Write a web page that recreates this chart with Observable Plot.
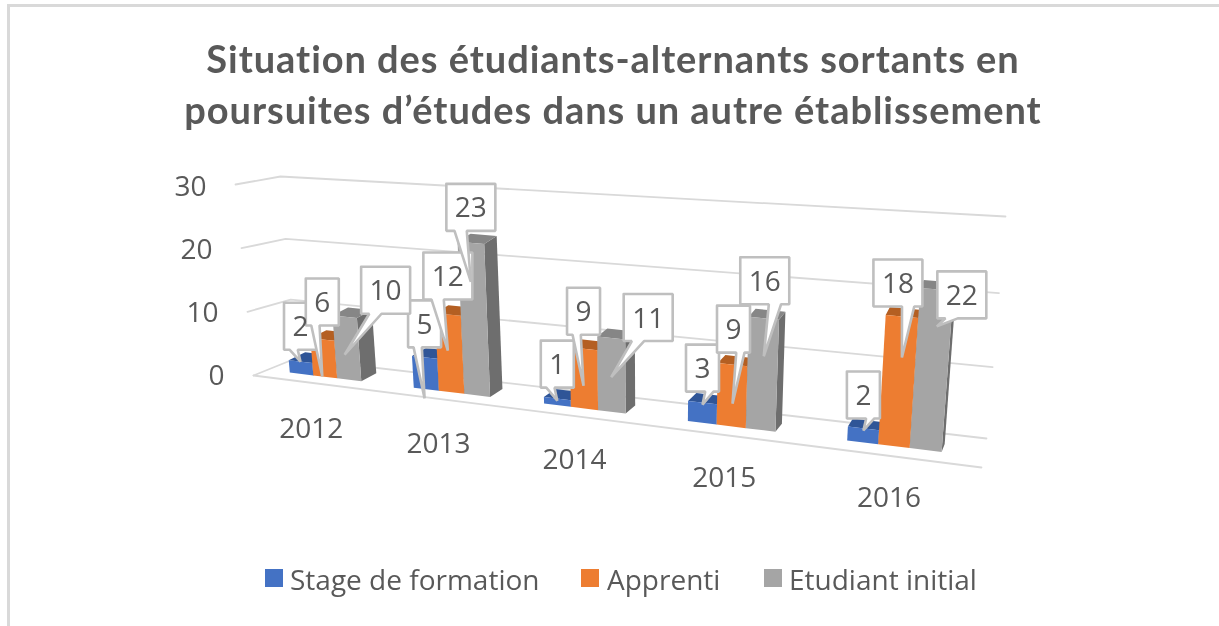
<!DOCTYPE html>
<html lang="fr">
<head>
<meta charset="utf-8">
<script src="https://cdn.jsdelivr.net/npm/d3@7"></script>
<script src="https://cdn.jsdelivr.net/npm/@observablehq/plot@0.6"></script>
<style>
  html, body { margin: 0; padding: 0; background: #fff; width: 1219px; height: 626px; overflow: hidden; }
  #frame { position: absolute; left: 7px; top: 4px; right: 0; bottom: 0; border-left: 3px solid #d9d9d9; border-top: 3px solid #d9d9d9; pointer-events: none; }
  #title { position: absolute; left: 0; width: 1226px; top: 33px; text-align: center; color: #595959;
           font: 700 38px/51px Lato, sans-serif; letter-spacing: 0.95px; filter: blur(0.6px); }
  #chart { position: absolute; left: 0; top: 140px; filter: blur(0.5px); }
  #legend { position: absolute; left: 0; top: 560px; width: 1219px; height: 40px; color: #595959; font: 28px "Open Sans", sans-serif; filter: blur(0.5px); }
  #legend span { position: absolute; white-space: nowrap; top: 0px; }
  #legend i { position: absolute; display: block; width: 18px; height: 18px; top: 9px; }
  svg text { font-family: "Open Sans", sans-serif; }
</style>
</head>
<body>
<div id="frame"></div>
<div id="title">Situation des étudiants-alternants sortants en<br>poursuites d’études dans un autre établissement</div>
<div id="chart"></div>
<div id="legend"></div>
<script>
// ---- data
const categories = ["2012", "2013", "2014", "2015", "2016"];
const seriesNames = ["Stage de formation", "Apprenti", "Etudiant initial"];
const stage = [2, 5, 1, 3, 2];
const apprenti = [6, 12, 9, 9, 18];
const initial = [10, 23, 11, 16, 22];
const yTicks = [0, 10, 20, 30];

// ---- styles
const frontColors = ["#4472C4", "#ED7D31", "#A5A5A5"];
const capColors = ["#2F5597", "#B45F22", "#868686"];
const sideColors = ["#2F5597", "#A9561D", "#6E6E6E"];
const gridColor = "#D9D9D9";
const boxColor = "#BFBFBF";
const textColor = "#595959";

// ---- layout of the drawing (page pixels)
const T = 140, H = 410, W = 1219;
const zeroY = 376, pxPerUnit = 6.3;
const yValue = Y => (zeroY - Y) / pxPerUnit;

// ---- perspective
function quad(p00, p10, p01, p11) {
  const sx = p00[0] - p10[0] + p11[0] - p01[0], sy = p00[1] - p10[1] + p11[1] - p01[1];
  const dx1 = p10[0] - p11[0], dx2 = p01[0] - p11[0], dy1 = p10[1] - p11[1], dy2 = p01[1] - p11[1];
  const den = dx1 * dy2 - dx2 * dy1;
  const g = (sx * dy2 - dx2 * sy) / den, h = (dx1 * sy - sx * dy1) / den;
  const a = p10[0] - p00[0] + g * p10[0], b = p01[0] - p00[0] + h * p01[0], c = p00[0];
  const d = p10[1] - p00[1] + g * p10[1], e = p01[1] - p00[1] + h * p01[1], f = p00[1];
  return (s, t) => { const w = g * s + h * t + 1; return [(a * s + b * t + c) / w, (d * s + e * t + f) / w]; };
}
const barPlane = quad([260, 368.5], [983, 456.6], [242, 177.5], [1002, 231.6]);
const backWall = quad([295, 358], [986, 438], [280, 176], [1005, 216]);
const frontEdge = v => [253 - 18 * v / 30, 375 - 191 * v / 30];
const floorRight = [981, 467];

const bar = (u, v) => barPlane(u / categories.length, v / 30);
const back = ([X, Y]) => [X + Math.max(3, 15 - 0.0205 * (X - 359)), Y - 8];

// ---- rows in scale units
const pt = (id, [X, Y], extra) => ({id, x: X, y: yValue(Y), ...extra});
const poly = (id, pts, extra) => [...pts, pts[0]].map(p => pt(id, p, extra));

const gridRows = yTicks.flatMap(v => [
  pt("g" + v, frontEdge(v)),
  pt("g" + v, backWall(0, v / 30)),
  pt("g" + v, backWall(1, v / 30))
]);
const floorRows = [pt("floor", frontEdge(0)), pt("floor", floorRight)];

const values = [stage, apprenti, initial];
const barWidth = 0.19;
const groupShift = [0.025, 0, -0.04, -0.05, -0.03];
const faces = [];
const anchors = [];
categories.forEach((c, i) => {
  values.forEach((vals, s) => {
    const v = vals[i];
    const u0 = i + 0.5 + groupShift[i] + (s - 1.5) * barWidth, u1 = u0 + barWidth;
    const bl = bar(u0, 0), br = bar(u1, 0), tl = bar(u0, v), tr = bar(u1, v);
    const id = c + "-" + s;
    faces.push(...poly(id + "side", [tr, br, back(br), back(tr)], {color: sideColors[s]}));
    faces.push(...poly(id + "cap", [tl, tr, back(tr), back(tl)], {color: capColors[s]}));
    faces.push(...poly(id + "front", [bl, br, tr, tl], {color: frontColors[s]}));
    anchors[s] = anchors[s] || [];
    anchors[s][i] = bar((u0 + u1) / 2, v);
  });
});

// ---- callouts: placement relative to the bar top
const calloutDx = [[0, 0, 0, 0, 0], [0, 0, 0, 1, -4], [41, 0, 37, 1, 25]];
const calloutDy = [[-12, -10, -11, -11, -10], [-14, -15, -14, -12, -10], [-3, -12, 3, -14, 29]];
const tipDrop = [[0, 41, 2, 2, 2], [37, 36, 37, 39, 41], [38, 39, 39, 38, 37]];
const tipSide = [["L", "L", "L", "R", "R"], ["L", "L", "L", "R", "R"], ["L", "L", "L", "R", "L"]];
const boxHeight = 47;
const calloutRows = [], calloutText = [];
values.forEach((vals, s) => vals.forEach((v, i) => {
  const [ax, ay] = anchors[s][i];
  const w = String(v).length > 1 ? 49 : 33;
  const cx = ax + calloutDx[s][i], bottom = ay + calloutDy[s][i], top = bottom - boxHeight;
  const left = cx - w / 2, right = cx + w / 2;
  const [b0, b1] = tipSide[s][i] === "L" ? [w / 6, 5 * w / 12] : [7 * w / 12, 5 * w / 6];
  calloutRows.push(...poly(`c${s}-${i}`, [
    [left, top], [right, top], [right, bottom],
    [left + b1, bottom], [ax, ay + tipDrop[s][i]], [left + b0, bottom], [left, bottom]
  ]));
  calloutText.push(pt(`t${s}-${i}`, [cx, (top + bottom) / 2 + 1], {label: String(v)}));
}));

// ---- axis and category labels
const tickRows = yTicks.map(v => ({x: frontEdge(v)[0] - 29, y: v, label: String(v)}));
const catLabelDx = [-14, -13, -10, -7, -5];
const catLabelDy = 52;
const catRows = categories.map((c, i) => {
  const [X, Y] = bar(i + 0.5 + groupShift[i], 0);
  return pt(c, [X + catLabelDx[i], Y + catLabelDy], {label: c});
});

const plot = Plot.plot({
  width: W, height: H,
  marginLeft: 0, marginRight: 0, marginTop: 0, marginBottom: 0,
  style: {background: "transparent", overflow: "visible"},
  x: {domain: [0, W], range: [0, W], axis: null},
  y: {domain: [yValue(T + H), yValue(T)], range: [H, 0], axis: null},
  marks: [
    Plot.line(gridRows, {x: "x", y: "y", z: "id", stroke: gridColor, strokeWidth: 1.8}),
    Plot.line(floorRows, {x: "x", y: "y", z: "id", stroke: gridColor, strokeWidth: 1.8}),
    Plot.line(faces, {x: "x", y: "y", z: "id", fill: "color", stroke: "none"}),
    Plot.line(calloutRows, {x: "x", y: "y", z: "id", fill: "white", stroke: boxColor, strokeWidth: 2.6, strokeLinejoin: "miter"}),
    Plot.text(calloutText, {x: "x", y: "y", text: "label", fill: textColor, fontSize: 28}),
    Plot.text(tickRows, {x: "x", y: "y", text: "label", textAnchor: "end", fill: textColor, fontSize: 28}),
    Plot.text(catRows, {x: "x", y: "y", text: "label", fill: textColor, fontSize: 28})
  ]
});
document.getElementById("chart").append(plot);

// ---- legend
const legendSwatchX = [265, 581, 764];
const legendTextX = [290, 607, 789];
const legend = document.getElementById("legend");
seriesNames.forEach((name, s) => {
  const sw = document.createElement("i");
  sw.style.left = legendSwatchX[s] + "px";
  sw.style.background = frontColors[s];
  const t = document.createElement("span");
  t.textContent = name;
  t.style.left = legendTextX[s] + "px";
  legend.append(sw, t);
});
</script>
</body>
</html>
